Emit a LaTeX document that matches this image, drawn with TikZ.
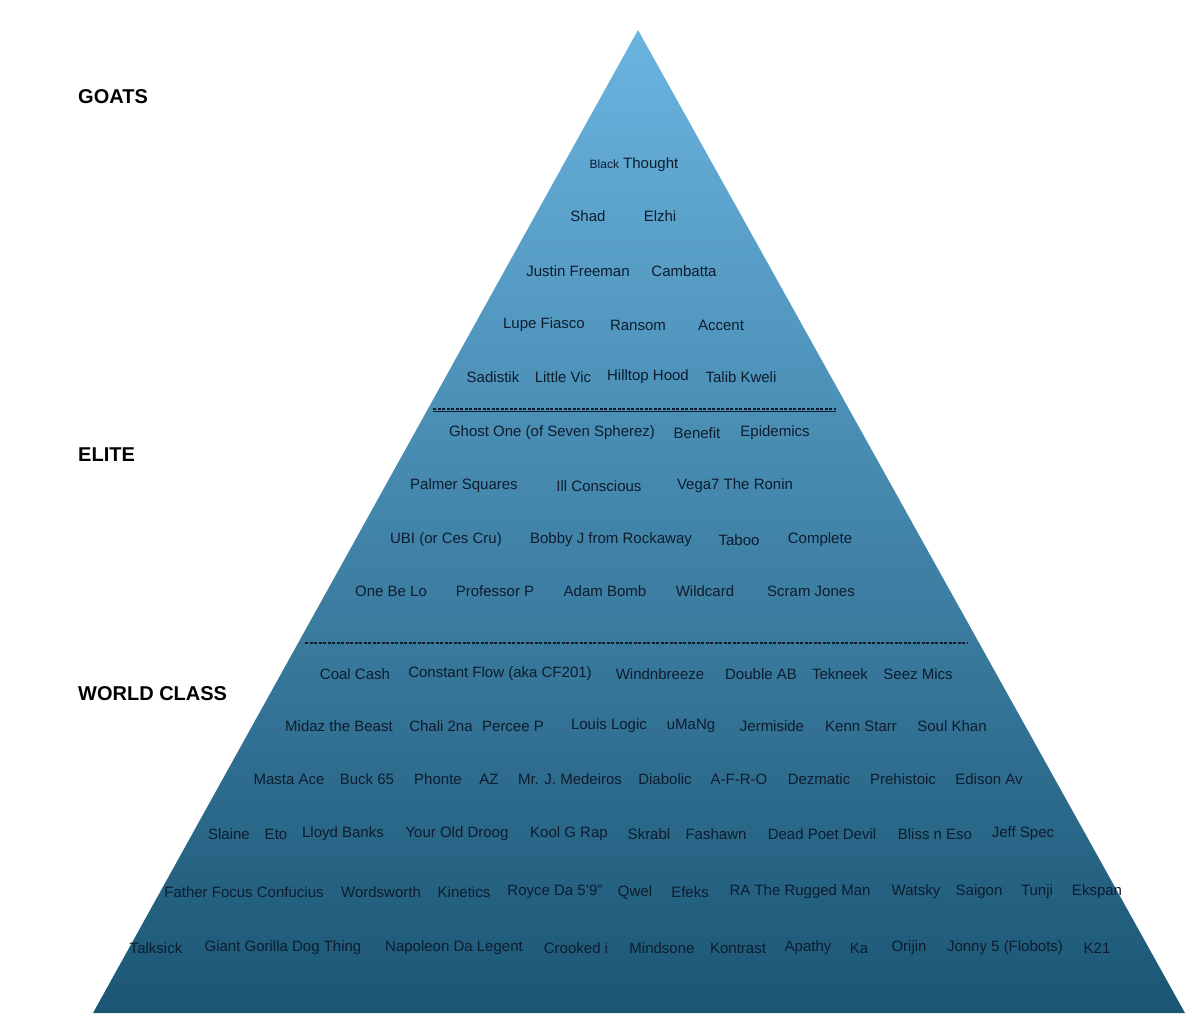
\documentclass[tikz,border=0pt]{standalone}
\usepackage{fontspec}
\setmainfont{Liberation Sans}
\usetikzlibrary{positioning}
\definecolor{pyrtop}{HTML}{6AB4E0}
\definecolor{pyrbot}{HTML}{1B5674}
\definecolor{namecol}{HTML}{0E1C2E}
\tikzset{
  artist/.style={text=namecol, font=\fontsize{15}{18}\selectfont, inner sep=0pt},
  tier/.style={anchor=west, font=\fontsize{20}{24}\selectfont\bfseries, inner sep=0pt},
  divider/.style={namecol, line width=1.2pt, dash pattern=on 3pt off 1.5pt}
}
\begin{document}
\begin{tikzpicture}[x=1pt, y=-1pt]
\useasboundingbox (0,0) rectangle (1200,1018);
% pyramid
\coordinate (apex) at (638,30);
\coordinate (baseL) at (93,1013);
\coordinate (baseR) at (1185,1013);
\shade[top color=pyrtop, bottom color=pyrbot] (apex) -- (baseR) -- (baseL) -- cycle;

% tiers
\node (goats) [tier] at (78,97) {GOATS};
\node (elite) [tier] at (78,455) {ELITE};
\node (world) [tier] at (78,694) {WORLD CLASS};

% dividers
\coordinate (d1a) at (433,409);
\coordinate (d1b) at (836,409);
\draw[divider] (d1a) -- (d1b);
\draw[namecol, line width=0.4pt] ([yshift=-2pt]d1a) -- ([yshift=-2pt]d1b);
\coordinate (d2a) at (305,643);
\coordinate (d2b) at (967,643);
\draw[divider] (d2a) -- (d2b);

% names
\node (n-1-1) [artist] at (634,165) {{\fontsize{12}{14}\selectfont Black} Thought};
\foreach \y/\row/\list in {
  216/2/{588/Shad, 660/Elzhi},
  271/3/{578/Justin Freeman, 684/Cambatta},
  325/4/{544/Lupe Fiasco, 638/Ransom, 721/Accent},
  377/5/{493/Sadistik, 563/Little Vic, 648/Hilltop Hood, 741/Talib Kweli},
  433/6/{552/Ghost One (of Seven Spherez), 697/Benefit, 775/Epidemics},
  486/7/{464/Palmer Squares, 599/Ill Conscious, 735/Vega7 The Ronin},
  540/8/{446/UBI (or Ces Cru), 611/Bobby J from Rockaway, 739/Taboo, 820/Complete},
  591/9/{391/One Be Lo, 495/Professor P, 605/Adam Bomb, 705/Wildcard, 811/Scram Jones},
  674/10/{355/Coal Cash, 500/Constant Flow (aka CF201), 660/Windnbreeze, 761/Double AB, 840/Tekneek, 918/Seez Mics},
  726/11/{339/Midaz the Beast, 441/Chali 2na, 513/Percee P, 609/Louis Logic, 691/uMaNg, 772/Jermiside, 861/Kenn Starr, 952/Soul Khan},
  779/12/{289/Masta Ace, 367/Buck 65, 438/Phonte, 489/AZ, 570/Mr. J. Medeiros, 665/Diabolic, 739/A-F-R-O, 819/Dezmatic, 903/Prehistoic, 989/Edison Av},
  834/13/{229/Slaine, 276/Eto, 343/Lloyd Banks, 457/Your Old Droog, 569/Kool G Rap, 649/Skrabl, 716/Fashawn, 822/Dead Poet Devil, 935/Bliss n Eso, 1023/Jeff Spec},
  892/14/{244/Father Focus Confucius, 381/Wordsworth, 464/Kinetics, 555/Royce Da 5'9”, 635/Qwel, 690/Efeks, 800/RA The Rugged Man, 916/Watsky, 979/Saigon, 1037/Tunji, 1097/Ekspan},
  948/15/{156/Talksick, 283/Giant Gorilla Dog Thing, 454/Napoleon Da Legent, 576/Crooked i, 662/Mindsone, 738/Kontrast, 808/Apathy, 859/Ka, 909/Orijin, 1005/Jonny 5 (Flobots), 1097/K21}%
}{
  \foreach \x/\who [count=\i] in \list
    \node (n-\row-\i) [artist] at (\x,\y) {\who};
}
\end{tikzpicture}
\end{document}
